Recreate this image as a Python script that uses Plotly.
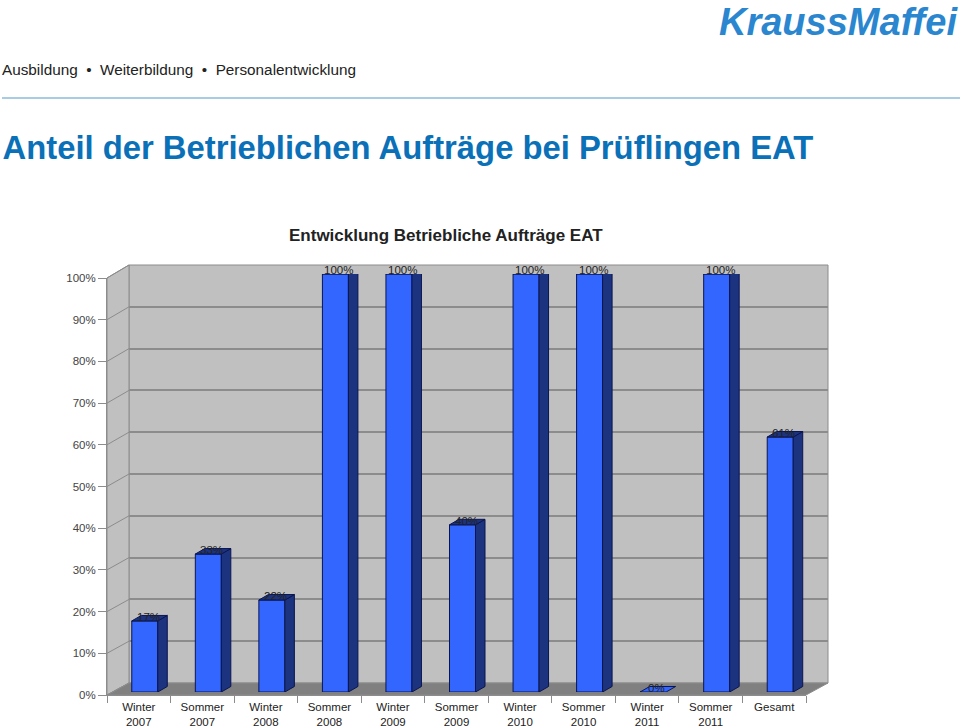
import plotly.graph_objects as go

categories = ["Winter<br>2007", "Sommer<br>2007", "Winter<br>2008", "Sommer<br>2008", "Winter<br>2009",
              "Sommer<br>2009", "Winter<br>2010", "Sommer<br>2010", "Winter<br>2011", "Sommer<br>2011", "Gesamt"]
values = [0.17, 0.33, 0.22, 1.00, 1.00, 0.40, 1.00, 1.00, 0.00, 1.00, 0.61]
value_labels = ["17%", "33%", "22%", "100%", "100%", "40%", "100%", "100%", "0%", "100%", "61%"]
y_ticks = [0, .1, .2, .3, .4, .5, .6, .7, .8, .9, 1.0]

W, H = 960, 727
FONT = "Liberation Sans, Arial, sans-serif"
def px(x): return x / W
def py(y): return 1 - y / H

# projected planes in pixels
FL, FR, FB, FT = 107, 806, 695, 278      # front plane (axis)
BL, BR, BB, BT = 129, 828, 683, 265      # back wall
SL, SR, SB, ST = 113, 812, 692, 274      # plane through the bars' front faces
BAR_W = 26 / ((SR - SL) / 11)
DX = 9.5 / ((SR - SL) / 11)
DY = 5.5 / (SB - ST)

FACE, SIDE, EDGE = "#3366FF", "#1C3380", "#0A1550"
WALL, FLOOR, FRAME = "#C0C0C0", "#808080", "#8C8C8C"

fig = go.Figure()
# back wall subplot (grid only)
fig.add_trace(go.Scatter(x=[0], y=[0], xaxis="x", yaxis="y", mode="none", showlegend=False, hoverinfo="skip"))
# front axes subplot (ticks, labels)
fig.add_trace(go.Scatter(x=categories, y=values, xaxis="x2", yaxis="y2", mode="none", showlegend=False, hoverinfo="skip"))
# bars
idx = list(range(len(values)))
fig.add_trace(go.Bar(x=idx, y=values, xaxis="x3", yaxis="y3", width=BAR_W,
                     marker=dict(color=FACE, line=dict(color=EDGE, width=1)), showlegend=False,
                     hovertemplate="%{y:.0%}<extra></extra>"))
hw = BAR_W / 2
for i, v in zip(idx, values):
    # side face
    if v > 0:
        fig.add_trace(go.Scatter(x=[i + hw, i + hw + DX, i + hw + DX, i + hw, i + hw],
                                 y=[0, DY, v + DY, v, 0], xaxis="x3", yaxis="y3", mode="lines",
                                 fill="toself", fillcolor=SIDE, line=dict(color=EDGE, width=1),
                                 showlegend=False, hoverinfo="skip"))
    # top face
    fig.add_trace(go.Scatter(x=[i - hw, i + hw, i + hw + DX, i - hw + DX, i - hw],
                             y=[v, v, v + DY, v + DY, v], xaxis="x3", yaxis="y3", mode="lines",
                             fill="toself", fillcolor=SIDE if v > 0 else FACE, line=dict(color=EDGE, width=1),
                             showlegend=False, hoverinfo="skip"))

shapes = [
    dict(type="path", xref="paper", yref="paper", layer="below", fillcolor=WALL, line=dict(color=FRAME, width=1),
         path=f"M{px(BL)},{py(BB)} L{px(BR)},{py(BB)} L{px(BR)},{py(BT)} L{px(BL)},{py(BT)} Z"),
    dict(type="path", xref="paper", yref="paper", layer="below", fillcolor=WALL, line=dict(color=FRAME, width=1),
         path=f"M{px(FL)},{py(FB)} L{px(BL)},{py(BB)} L{px(BL)},{py(BT)} L{px(FL)},{py(FT)} Z"),
    dict(type="path", xref="paper", yref="paper", layer="below", fillcolor=FLOOR, line=dict(color=FRAME, width=1),
         path=f"M{px(FL)},{py(FB)} L{px(BL)},{py(BB)} L{px(BR)},{py(BB)} L{px(FR)},{py(FB)} Z"),
    dict(type="line", xref="paper", yref="paper", x0=px(2), x1=1, y0=py(98), y1=py(98),
         line=dict(color="#8CBBDD", width=1.5)),
]
for t in y_ticks:
    yf = FB + (FT - FB) * t
    yb = BB + (BT - BB) * t
    shapes.append(dict(type="line", xref="paper", yref="paper", layer="below",
                       x0=px(FL), x1=px(BL), y0=py(yf), y1=py(yb), line=dict(color=FRAME, width=1)))

annotations = [dict(x=i, y=v, xref="x3", yref="y3", text=s, showarrow=False, xshift=3.5, yshift=4,
                    font=dict(family=FONT, size=11.5, color="#222222"))
               for i, v, s in zip(idx, values, value_labels)]
annotations += [
    dict(x=px(0), y=py(70), xref="paper", yref="paper", xanchor="left", yanchor="middle", showarrow=False,
         text="Ausbildung  \u2022  Weiterbildung  \u2022  Personalentwicklung",
         font=dict(family=FONT, size=15.3, color="#222222")),
    dict(x=px(446), y=py(235), xref="paper", yref="paper", xanchor="center", yanchor="middle", showarrow=False,
         text="<b>Entwicklung Betriebliche Aufträge EAT</b>", font=dict(family=FONT, size=17, color="#222222")),
    dict(x=px(960), y=py(22), xref="paper", yref="paper", xanchor="right", yanchor="middle", showarrow=False,
         text="<b><i>KraussMaffei</i></b>", font=dict(family=FONT, size=38, color="#2A86CF")),
]

def hidden(**kw):
    return dict(visible=True, showgrid=False, zeroline=False, showline=False, showticklabels=False, ticks="", **kw)

fig.update_layout(
    width=W, height=H, margin=dict(l=0, r=0, t=0, b=0, autoexpand=False),
    paper_bgcolor="white", plot_bgcolor="rgba(0,0,0,0)", showlegend=False, barmode="overlay",
    title=dict(text="<b>Anteil der Betrieblichen Aufträge bei Prüflingen EAT</b>", x=px(2.5), xanchor="left",
               y=py(148), yanchor="middle", font=dict(family=FONT, size=32.8, color="#0A70B8")),
    xaxis=dict(hidden(domain=[px(BL), px(BR)], range=[0, 1], anchor="y")),
    yaxis=dict(domain=[py(BB), py(BT)], range=[0, 1], anchor="x", tickvals=y_ticks, showticklabels=False,
               showgrid=True, gridcolor=FRAME, gridwidth=1.5, zeroline=False, showline=False, ticks=""),
    xaxis2=dict(domain=[px(FL), px(FR)], type="category", range=[-0.5, 10.5], anchor="y2", tickson="boundaries",
                ticks="outside", ticklen=7, tickcolor=FRAME, tickwidth=1, showline=True, linecolor=FRAME, showgrid=False,
                tickfont=dict(family=FONT, size=11.5, color="#222222"), tickangle=0, categoryorder="array",
                categoryarray=categories, ticklabelstandoff=1),
    yaxis2=dict(domain=[py(FB), py(FT)], range=[0, 1], anchor="x2", tickvals=y_ticks, tickformat=".0%",
                ticks="outside", ticklen=8, tickcolor=FRAME, showgrid=False, zeroline=False, showline=True,
                linecolor=FRAME, tickfont=dict(family=FONT, size=11.5, color="#444444")),
    xaxis3=dict(hidden(domain=[px(SL), px(SR)], range=[-0.5, 10.5], anchor="y3")),
    yaxis3=dict(hidden(domain=[py(SB), py(ST)], range=[0, 1], anchor="x3")),
    shapes=shapes, annotations=annotations,
)
fig.write_html("out.html", config=dict(displayModeBar=False),
               post_script="document.body.style.margin='0';document.documentElement.style.overflow='hidden';")
